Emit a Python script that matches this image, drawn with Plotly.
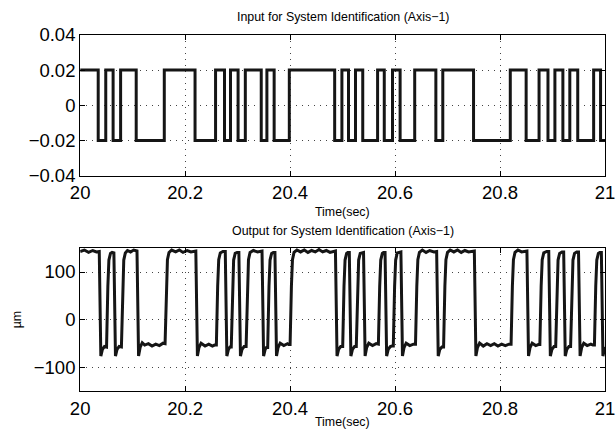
import plotly.graph_objects as go

# ---- Input (PRBS) : switching times (s offset from 20 s) and levels ----
IN_T = [0.0, 0.0344, 0.0488, 0.0628, 0.0771, 0.1068, 0.1603, 0.2189, 0.2580, 0.2750,
        0.2864, 0.3009, 0.3147, 0.3450, 0.3558, 0.3696, 0.3985, 0.4849, 0.4987, 0.5113,
        0.5246, 0.5384, 0.5667, 0.5794, 0.5951, 0.6096, 0.6374, 0.6777, 0.6909, 0.7495,
        0.8195, 0.8497, 0.8743, 0.8913, 0.9045, 0.9197, 0.9329, 0.9480, 0.9783, 0.9915, 1.0]
IN_V = [0.02, -0.02, 0.02, -0.02, 0.02, -0.02, 0.02, -0.02, 0.02, -0.02,
        0.02, -0.02, 0.02, -0.02, 0.02, -0.02, 0.02, -0.02, 0.02, -0.02,
        0.02, -0.02, 0.02, -0.02, 0.02, -0.02, 0.02, -0.02, 0.02, -0.02,
        0.02, -0.02, 0.02, -0.02, 0.02, -0.02, 0.02, -0.02, 0.02, -0.02, -0.02]

# ---- Output (um) ----
OUT_T = [0.000, 0.008, 0.016, 0.024, 0.031,
         0.0364, 0.0394, 0.0424, 0.0464,
         0.0503, 0.0528, 0.0548, 0.0578, 0.0608,
         0.0643, 0.0673, 0.0703, 0.0743,
         0.0786, 0.0811, 0.0831, 0.0861, 0.0901, 0.0960, 0.1020,
         0.1083, 0.1113, 0.1143, 0.1183, 0.1230, 0.1300, 0.1370, 0.1440, 0.1510, 0.1580,
         0.1618, 0.1643, 0.1663, 0.1693, 0.1743, 0.1820, 0.1890, 0.1960, 0.2040, 0.2110, 0.2170,
         0.2204, 0.2234, 0.2264, 0.2304, 0.2380, 0.2450, 0.2520, 0.2560,
         0.2595, 0.2620, 0.2640, 0.2670, 0.2720,
         0.2765, 0.2795, 0.2825, 0.2855,
         0.2879, 0.2904, 0.2924, 0.2954, 0.2990,
         0.3024, 0.3054, 0.3084, 0.3124,
         0.3162, 0.3187, 0.3207, 0.3237, 0.3300, 0.3380, 0.3430,
         0.3465, 0.3495, 0.3525, 0.3550,
         0.3573, 0.3598, 0.3618, 0.3648, 0.3680,
         0.3711, 0.3741, 0.3771, 0.3811, 0.3880, 0.3950, 0.3975,
         0.4000, 0.4025, 0.4045, 0.4075, 0.4130, 0.4200, 0.4270, 0.4340, 0.4410, 0.4480,
         0.4550, 0.4620, 0.4690, 0.4760, 0.4830,
         0.4864, 0.4894, 0.4924, 0.4964,
         0.5002, 0.5027, 0.5047, 0.5077, 0.5100,
         0.5128, 0.5158, 0.5188, 0.5228,
         0.5261, 0.5286, 0.5306, 0.5336, 0.5370,
         0.5399, 0.5429, 0.5459, 0.5499, 0.5570, 0.5640,
         0.5682, 0.5707, 0.5727, 0.5757, 0.5780,
         0.5809, 0.5839, 0.5869, 0.5909, 0.5940,
         0.5966, 0.5991, 0.6011, 0.6041, 0.6080,
         0.6111, 0.6141, 0.6171, 0.6211, 0.6280, 0.6350,
         0.6389, 0.6414, 0.6434, 0.6464, 0.6520, 0.6590, 0.6660, 0.6740,
         0.6792, 0.6822, 0.6852, 0.6892,
         0.6924, 0.6949, 0.6969, 0.6999, 0.7050, 0.7120, 0.7190, 0.7260, 0.7330, 0.7400, 0.7470,
         0.7510, 0.7540, 0.7570, 0.7610, 0.7680, 0.7750, 0.7820, 0.7890, 0.7960, 0.8030, 0.8100, 0.8170,
         0.8210, 0.8235, 0.8255, 0.8285, 0.8340, 0.8410, 0.8470,
         0.8512, 0.8542, 0.8572, 0.8612, 0.8680, 0.8730,
         0.8758, 0.8783, 0.8803, 0.8833, 0.8890,
         0.8928, 0.8958, 0.8988, 0.9028,
         0.9060, 0.9085, 0.9105, 0.9135, 0.9180,
         0.9212, 0.9242, 0.9272, 0.9312,
         0.9344, 0.9369, 0.9389, 0.9419, 0.9460,
         0.9495, 0.9525, 0.9555, 0.9595, 0.9660, 0.9730, 0.9770,
         0.9798, 0.9823, 0.9843, 0.9873, 0.9900,
         0.9930, 0.9960, 0.9990, 1.0000]
OUT_Y = [143, 146, 141, 145, 142,
         143, -76, -62, -56,
         -57, 70, 125, 139, 141,
         140, -76, -62, -56,
         -57, 70, 125, 140, 145, 142, 146,
         144, -76, -58, -48, -53, -50, -55, -51, -54, -49,
         -50, 70, 126, 141, 146, 142, 146, 141, 145, 142, 144,
         144, -76, -58, -49, -55, -51, -55, -53,
         -53, 70, 126, 140, 143,
         143, -76, -62, -57,
         -57, 70, 125, 139, 141,
         141, -76, -62, -56,
         -56, 70, 126, 141, 145, 142, 144,
         144, -76, -62, -58,
         -58, 70, 125, 139, 141,
         141, -76, -58, -49, -54, -50, -52,
         -52, 70, 126, 141, 146, 142, 146, 141, 145, 142,
         147, 142, 145, 141, 144,
         144, -76, -62, -56,
         -56, 70, 125, 139, 141,
         141, -76, -62, -56,
         -56, 70, 125, 139, 141,
         141, -76, -58, -49, -54, -50,
         -51, 70, 125, 139, 141,
         141, -76, -62, -56, -55,
         -55, 70, 125, 140, 142,
         142, -76, -58, -49, -54, -51,
         -51, 70, 126, 141, 146, 141, 145, 142,
         143, -76, -62, -57,
         -57, 70, 126, 141, 146, 142, 146, 141, 145, 142, 144,
         144, -76, -58, -49, -55, -50, -54, -50, -55, -51, -54, -51,
         -51, 70, 126, 141, 146, 142, 144,
         144, -76, -58, -49, -54, -52,
         -52, 70, 126, 140, 143,
         143, -76, -62, -56,
         -56, 70, 125, 139, 142,
         142, -76, -62, -56,
         -56, 70, 125, 139, 142,
         142, -76, -58, -49, -54, -51, -53,
         -53, 70, 125, 139, 141,
         141, -76, -60, -57]

T0 = 20.0
X_TICKS = [20, 20.2, 20.4, 20.6, 20.8, 21]
X_TICKTEXT = ["20", "20.2", "20.4", "20.6", "20.8", "21"]
Y1_TICKS = [-0.04, -0.02, 0, 0.02, 0.04]
Y1_TICKTEXT = ["\u22120.04", "\u22120.02", "0", "0.02", "0.04"]
Y2_TICKS = [-100, 0, 100]
Y2_TICKTEXT = ["\u2212100", "0", "100"]

LINE_COLOR = "#151515"
FONT = "Liberation Sans, Arial, sans-serif"

fig = go.Figure()
fig.add_trace(go.Scatter(x=[T0 + t for t in IN_T], y=IN_V, mode="lines",
                         line=dict(color=LINE_COLOR, width=3, shape="hv"),
                         xaxis="x", yaxis="y", showlegend=False))
fig.add_trace(go.Scatter(x=[T0 + t for t in OUT_T], y=OUT_Y, mode="lines",
                         line=dict(color=LINE_COLOR, width=3),
                         xaxis="x2", yaxis="y2", showlegend=False))

W, H = 616, 440
x_dom = [72.5 / W, 615.0 / W]
y1_dom = [(H - 173) / H, (H - 25) / H]
y2_dom = [(H - 399.5) / H, (H - 249) / H]

axis_common = dict(showline=True, linecolor="black", linewidth=1, mirror="ticks",
                   ticks="inside", ticklen=5, tickcolor="black",
                   showgrid=True, gridcolor="#444444", gridwidth=1, griddash="1px,5px",
                   zeroline=False, ticklabeloverflow="allow",
                   tickfont=dict(family=FONT, size=18.5, color="black"))

fig.update_layout(
    width=W, height=H, margin=dict(l=0, r=0, t=0, b=0),
    paper_bgcolor="white", plot_bgcolor="white",
    xaxis=dict(domain=x_dom, anchor="y", range=[20, 21], tickvals=X_TICKS,
               ticktext=X_TICKTEXT, **axis_common),
    yaxis=dict(domain=y1_dom, anchor="x", range=[-0.04, 0.04], tickvals=Y1_TICKS,
               ticktext=Y1_TICKTEXT, **axis_common),
    xaxis2=dict(domain=x_dom, anchor="y2", range=[20, 21], tickvals=X_TICKS,
                ticktext=X_TICKTEXT, **axis_common),
    yaxis2=dict(domain=y2_dom, anchor="x2", range=[-150, 150], tickvals=Y2_TICKS,
                ticktext=Y2_TICKTEXT, **axis_common),
)

xc = (x_dom[0] + x_dom[1]) / 2
def ann(text, ypx, size=12.4, x=xc, angle=0):
    fig.add_annotation(text=text, x=x, y=1 - ypx / H, xref="paper", yref="paper",
                       showarrow=False, textangle=angle,
                       font=dict(family=FONT, size=size, color="black"),
                       xanchor="center", yanchor="middle")

ann("Input for System Identification (Axis\u22121)", 6.5)
ann("Time(sec)", 211)
ann("Output for System Identification (Axis\u22121)", 231)
ann("Time(sec)", 432)
ann("\u00b5m", 324, x=7 / W, angle=-90)

fig.write_html("out.html")
